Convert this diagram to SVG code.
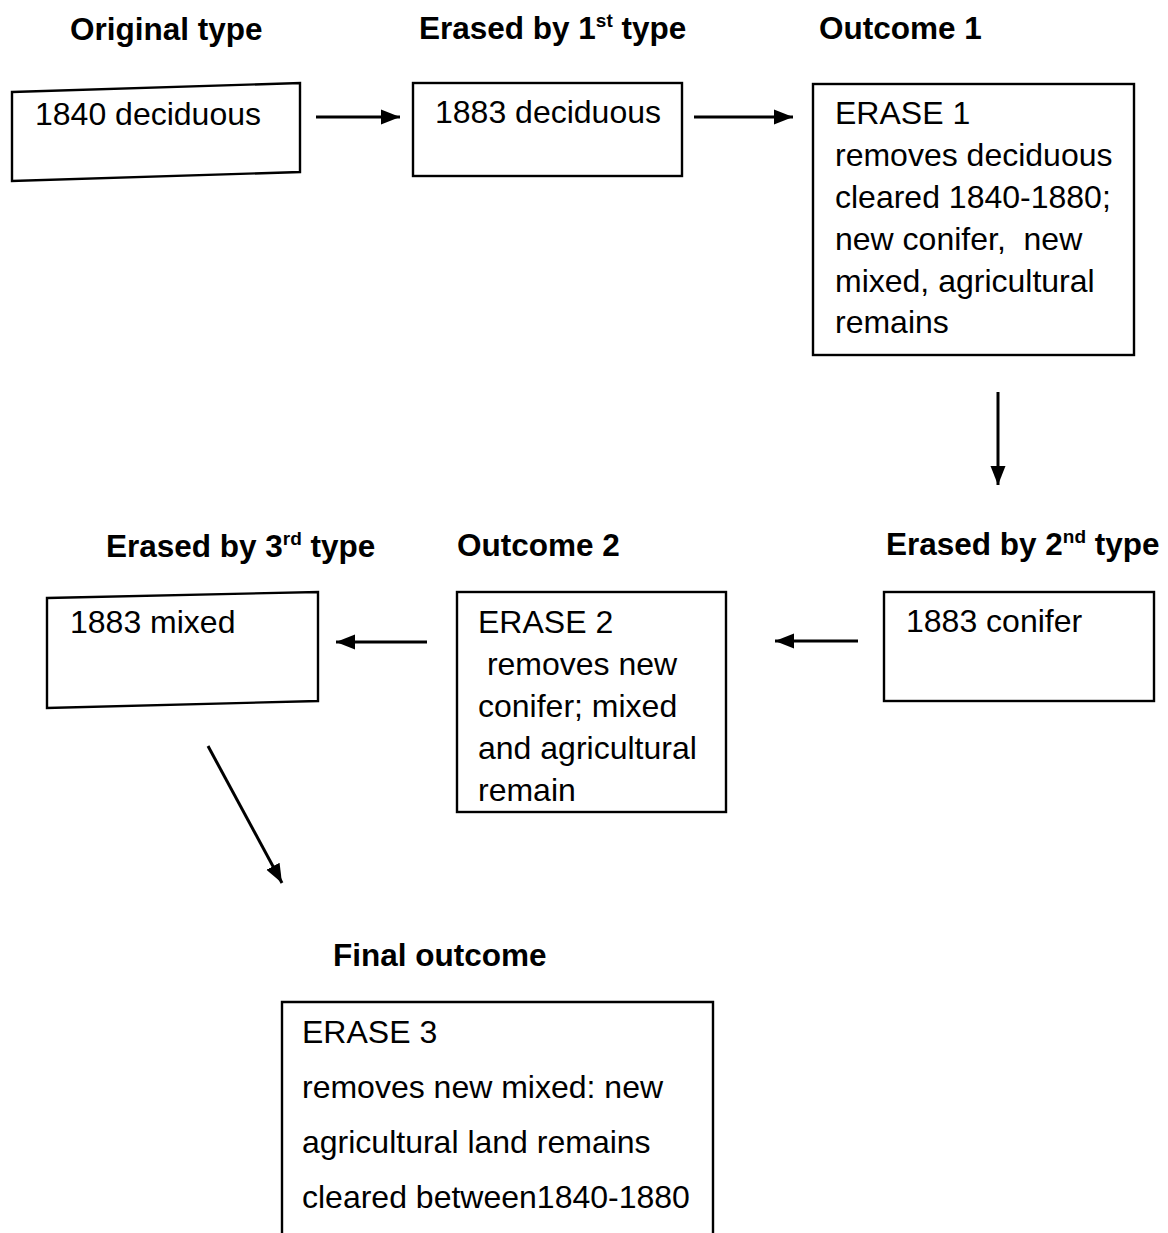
<svg xmlns="http://www.w3.org/2000/svg" width="1168" height="1233" viewBox="0 0 1168 1233">
  <style>
    .box { fill: #fff; stroke: #000; stroke-width: 2.4; }
    .t { font-family: "Liberation Sans", Arial, sans-serif; font-size: 32px; fill: #000; white-space: pre; }
    .h { font-family: "Liberation Sans", Arial, sans-serif; font-size: 31.5px; font-weight: bold; fill: #000; }
    .sup { font-size: 19px; }
    .conn line { stroke: #000; stroke-width: 3; }
  </style>
  <defs>
    <marker id="arrow" markerUnits="userSpaceOnUse" markerWidth="22" markerHeight="18" refX="19" refY="9" orient="auto">
      <path d="M0,1.5 L19,9 L0,16.5 Z" fill="#000"/>
    </marker>
  </defs>
  <rect width="1168" height="1233" fill="#fff"/>

  <!-- column / stage headings -->
  <g id="headings">
    <text class="h" x="70" y="40">Original type</text>
    <text class="h" x="419" y="39">Erased by 1<tspan class="sup" dy="-12">st</tspan><tspan dy="12"> type</tspan></text>
    <text class="h" x="819" y="39">Outcome 1</text>
    <text class="h" x="106" y="557">Erased by 3<tspan class="sup" dy="-12">rd</tspan><tspan dy="12"> type</tspan></text>
    <text class="h" x="457" y="556">Outcome 2</text>
    <text class="h" x="886" y="555">Erased by 2<tspan class="sup" dy="-12">nd</tspan><tspan dy="12"> type</tspan></text>
    <text class="h" x="333" y="966">Final outcome</text>
  </g>

  <g id="node-1840-deciduous">
    <polygon class="box" points="12,92 300,83 300,172 12,181"/>
    <text class="t" x="35" y="125">1840 deciduous</text>
  </g>

  <g id="node-1883-deciduous">
    <rect class="box" x="413" y="83" width="269" height="93"/>
    <text class="t" x="435" y="123">1883 deciduous</text>
  </g>

  <g id="node-erase-1">
    <rect class="box" x="813" y="84" width="321" height="271"/>
    <text class="t" x="835" y="124">ERASE 1</text>
    <text class="t" x="835" y="166">removes deciduous</text>
    <text class="t" x="835" y="208">cleared 1840-1880;</text>
    <text class="t" x="835" y="250">new conifer,  new</text>
    <text class="t" x="835" y="292">mixed, agricultural</text>
    <text class="t" x="835" y="333">remains</text>
  </g>

  <g id="node-1883-conifer">
    <rect class="box" x="884" y="592" width="270" height="109"/>
    <text class="t" x="906" y="632">1883 conifer</text>
  </g>

  <g id="node-erase-2">
    <rect class="box" x="457" y="592" width="269" height="220"/>
    <text class="t" x="478" y="633">ERASE 2</text>
    <text class="t" x="478" y="675"> removes new</text>
    <text class="t" x="478" y="717">conifer; mixed</text>
    <text class="t" x="478" y="759">and agricultural</text>
    <text class="t" x="478" y="801">remain</text>
  </g>

  <g id="node-1883-mixed">
    <polygon class="box" points="47,598 318,592 318,701 47,708"/>
    <text class="t" x="70" y="633">1883 mixed</text>
  </g>

  <g id="node-erase-3">
    <polyline class="box" points="282,1240 282,1002 713,1002 713,1240"/>
    <text class="t" x="302" y="1043">ERASE 3</text>
    <text class="t" x="302" y="1098">removes new mixed: new</text>
    <text class="t" x="302" y="1153">agricultural land remains</text>
    <text class="t" x="302" y="1208">cleared between1840-1880</text>
  </g>

  <!-- flow arrows -->
  <g id="connectors" class="conn">
    <line x1="316" y1="117" x2="400" y2="117" marker-end="url(#arrow)"/>
    <line x1="694" y1="117" x2="793" y2="117" marker-end="url(#arrow)"/>
    <line x1="998" y1="392" x2="998" y2="485" marker-end="url(#arrow)"/>
    <line x1="858" y1="641" x2="775" y2="641" marker-end="url(#arrow)"/>
    <line x1="427" y1="642" x2="336" y2="642" marker-end="url(#arrow)"/>
    <line x1="208" y1="746" x2="282" y2="883" marker-end="url(#arrow)"/>
  </g>
</svg>
